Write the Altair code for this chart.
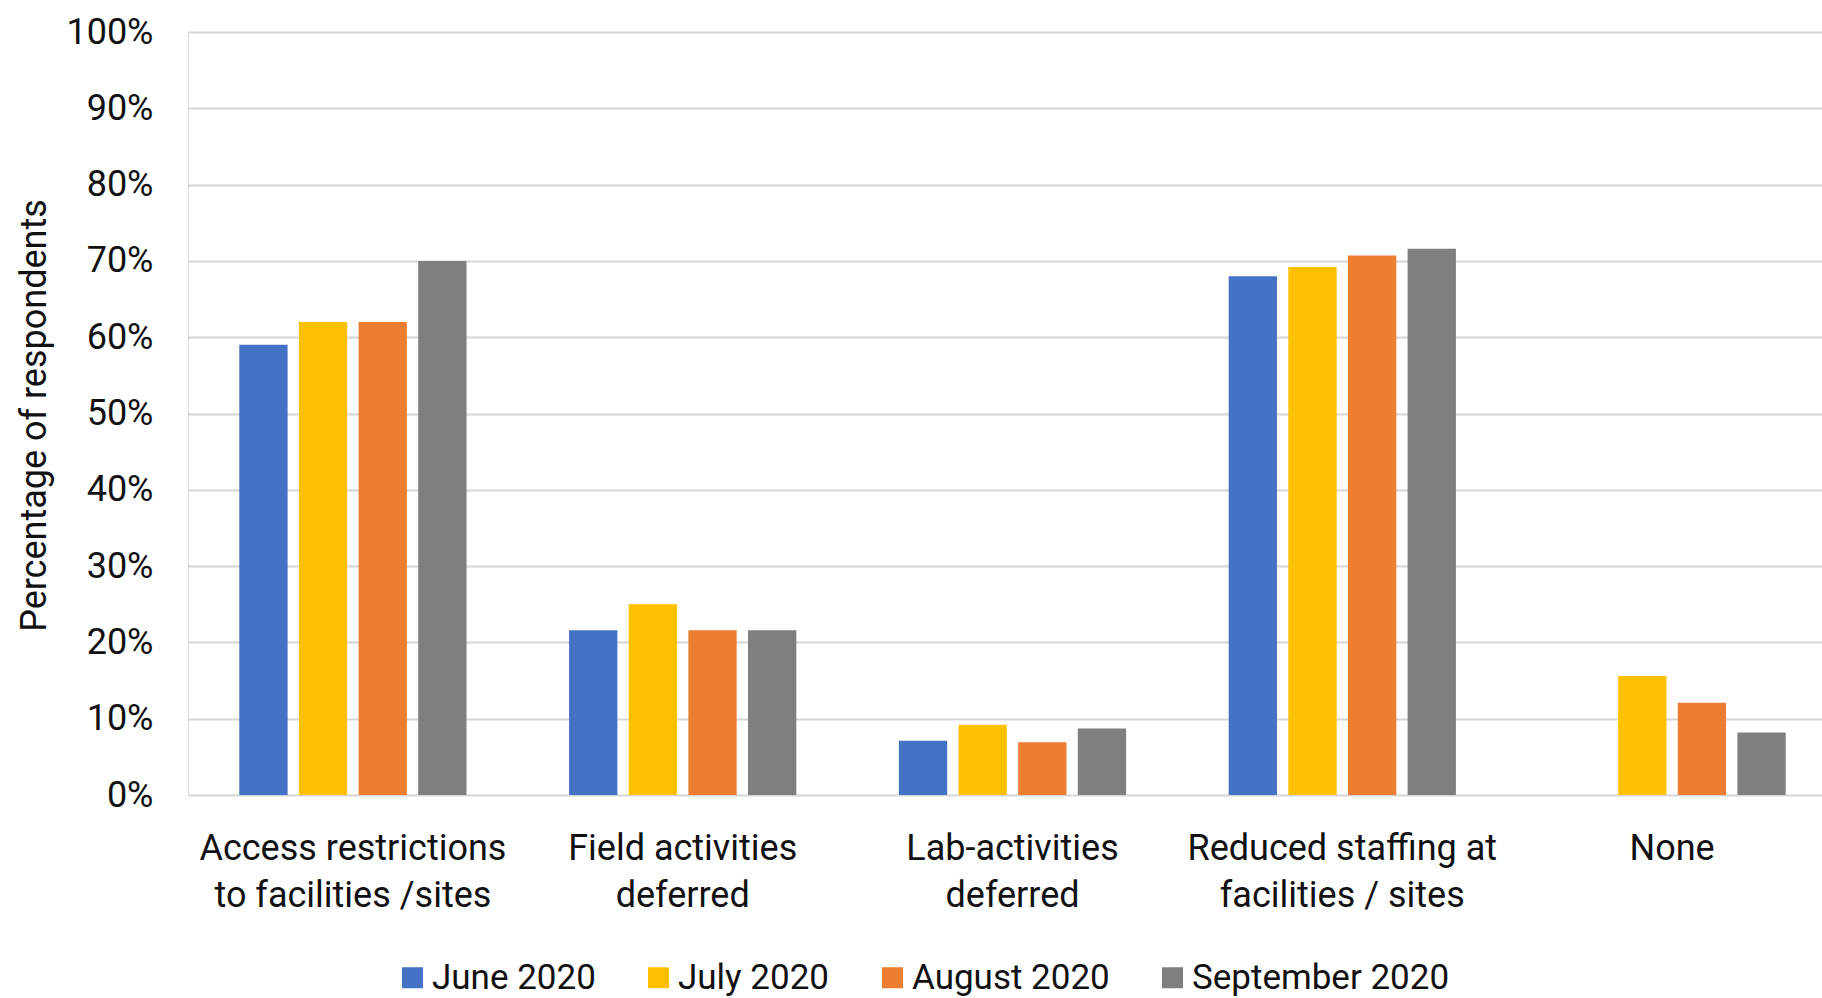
import altair as alt
import pandas as pd

# Survey categories (line breaks mark where the axis label wraps)
categories = [
    "Access restrictions\nto facilities /sites",
    "Field activities\ndeferred",
    "Lab-activities\ndeferred",
    "Reduced staffing at\nfacilities / sites",
    "None",
]
series = ["June 2020", "July 2020", "August 2020", "September 2020"]
colors = ["#4472C4", "#FFC000", "#ED7D31", "#7F7F7F"]

# Percentage of respondents per month (None = not asked that month)
june = [59.0, 21.6, 7.1, 68.0, None]
july = [62.0, 25.0, 9.2, 69.2, 15.6]
august = [62.0, 21.6, 6.9, 70.7, 12.1]
september = [70.0, 21.6, 8.7, 71.6, 8.2]

rows = []
for name, vals in zip(series, [june, july, august, september]):
    for cat, v in zip(categories, vals):
        if v is not None:
            rows.append({"category": cat, "series": name, "value": v})
df = pd.DataFrame(rows)

FONT = "Roboto"
TXT = "#111111"

chart = (
    alt.Chart(df)
    .mark_bar()
    .encode(
        x=alt.X(
            "category:N",
            sort=categories,
            scale=alt.Scale(range=[0, 1649], paddingInner=0, paddingOuter=0),
            axis=alt.Axis(
                title=None,
                labelExpr="split(datum.label, '\\n')",
                labelFont=FONT,
                labelFontSize=36,
                labelColor=TXT,
                labelLineHeight=47,
                labelPadding=36,
                labelAngle=0,
                labelBaseline="top",
                labelLimit=600,
                ticks=False,
                tickSize=0,
                domain=False,
                grid=False,
            ),
        ),
        xOffset=alt.XOffset(
            "series:N",
            sort=series,
            scale=alt.Scale(domain=series, paddingInner=0.19, paddingOuter=0.86),
        ),
        y=alt.Y(
            "value:Q",
            scale=alt.Scale(domain=[0, 100], nice=False),
            axis=alt.Axis(
                title="Percentage of respondents",
                values=list(range(0, 101, 10)),
                labelExpr="datum.value + '%'",
                labelFont=FONT,
                labelFontSize=36,
                labelColor=TXT,
                labelPadding=35,
                ticks=False,
                tickSize=0,
                domain=False,
                grid=True,
                gridColor="#D6D6D6",
                gridWidth=2,
                titleFont=FONT,
                titleFontSize=36,
                titleFontWeight="normal",
                titleColor=TXT,
                titleAngle=270,
                titleAlign="center",
                titleBaseline="alphabetic",
                titleX=-143,
                titleY=383,
            ),
        ),
        color=alt.Color(
            "series:N",
            sort=series,
            scale=alt.Scale(domain=series, range=colors),
            legend=alt.Legend(
                title=None,
                orient="none",
                direction="horizontal",
                legendX=207,
                legendY=928,
                symbolType="square",
                symbolSize=441,
                symbolStrokeWidth=0,
                labelFont=FONT,
                labelFontSize=35,
                labelColor=TXT,
                labelLimit=400,
                labelOffset=2,
                columnPadding=45,
            ),
        ),
    )
    .properties(
        width=1634,
        height=763,
        autosize=alt.AutoSizeParams(type="none"),
        padding={"left": 188, "top": 32, "right": 0, "bottom": 203},
    )
    .configure_view(stroke=None)
    .configure(background="white")
)

chart.save("out.html", embed_options={"renderer": "svg", "actions": False})
